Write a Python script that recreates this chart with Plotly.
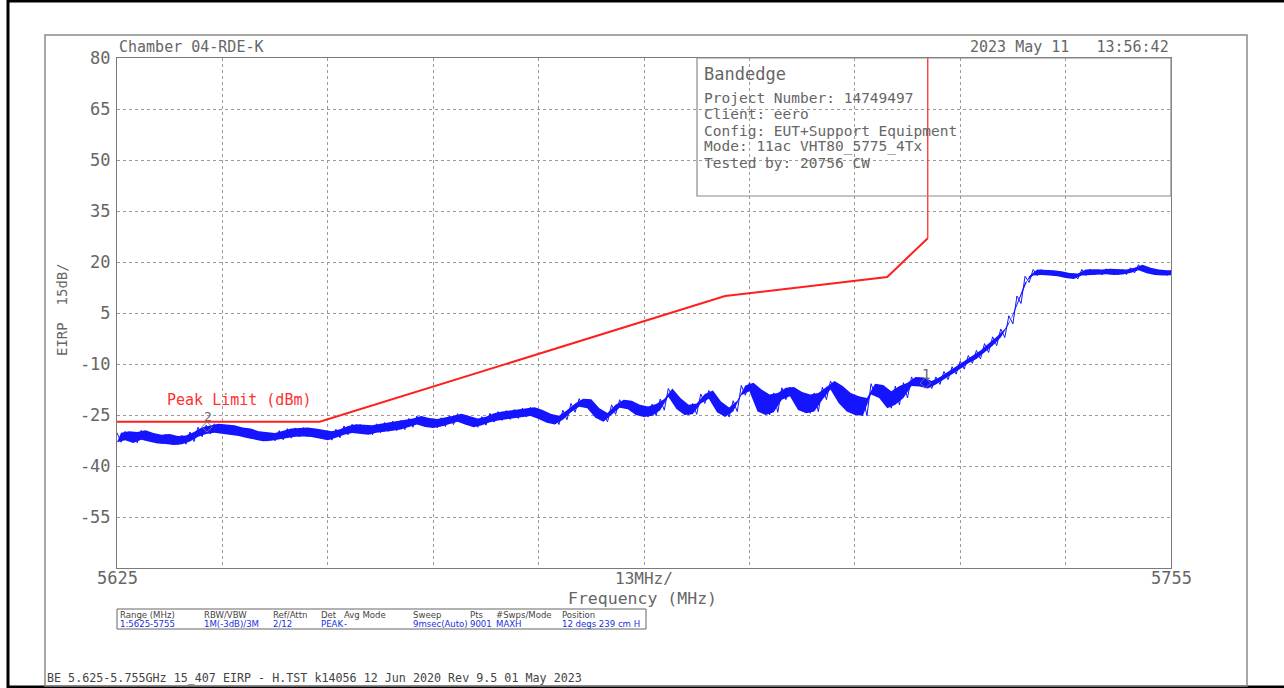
import plotly.graph_objects as go

# ---------------- data ----------------
freq_mhz = list(range(5625, 5756))  # 1 MHz steps
trace_hi = [
    -30.2, -29.8, -30.0, -29.5, -30.3, -30.8, -30.6, -31.2, -31.0, -30.0,
    -28.6, -28.0, -27.6, -27.8, -28.0, -28.7, -29.0, -29.8, -30.0, -30.3,
    -29.6, -29.0, -28.8, -28.7, -29.0, -29.4, -29.8, -29.2, -28.2, -27.7,
    -27.8, -28.0, -27.6, -27.2, -26.8, -26.6, -26.0, -25.3, -25.9, -26.2,
    -25.8, -25.2, -24.6, -25.2, -26.0, -25.5, -24.5, -24.0, -23.7, -23.4,
    -23.0, -22.7, -23.5, -24.6, -25.2, -23.6, -21.6, -20.2, -20.4, -23.0,
    -24.4, -22.0, -20.5, -20.8, -22.0, -22.5, -21.8, -20.3, -17.2, -20.0,
    -22.0, -21.6, -18.8, -17.8, -21.0, -22.8, -20.8, -16.3, -15.5, -17.5,
    -19.0, -18.5, -17.0, -16.8, -18.2, -19.0, -18.5, -16.8, -15.0, -16.5,
    -18.5, -19.5, -20.0, -15.8, -16.2, -18.0, -16.5, -15.5, -13.8, -14.0,
    -15.0, -13.8, -12.2, -10.8, -9.2, -7.5, -6.0, -4.0, -2.0, 0.3,
    4.2, 10.0, 15.8, 17.8, 17.8, 17.6, 17.3, 16.8, 16.6, 17.8,
    17.9, 17.8, 18.0, 17.8, 17.8, 18.3, 19.2, 18.3, 17.8, 17.6,
    17.5,
]
trace_lo = [
    -33.0, -32.4, -33.2, -32.3, -32.9, -33.4, -33.5, -33.8, -33.6, -32.8,
    -31.4, -30.6, -30.2, -30.5, -30.7, -31.2, -31.8, -32.2, -32.7, -32.6,
    -32.3, -31.8, -31.4, -31.3, -31.5, -32.0, -32.4, -31.7, -30.8, -30.3,
    -30.5, -30.8, -30.2, -29.8, -29.6, -29.3, -28.6, -27.8, -28.5, -28.8,
    -28.4, -27.8, -27.0, -27.9, -28.6, -28.0, -27.1, -26.6, -26.3, -26.0,
    -25.6, -25.3, -26.2, -27.3, -27.8, -26.4, -24.2, -22.6, -23.0, -25.8,
    -27.0, -24.8, -22.9, -23.3, -25.0, -25.6, -25.2, -23.6, -19.6, -23.2,
    -25.0, -24.8, -21.6, -20.2, -24.2, -25.6, -24.0, -19.2, -18.0, -24.0,
    -25.0, -24.2, -20.5, -19.5, -23.5, -24.5, -24.0, -20.5, -17.5, -21.5,
    -24.0, -25.0, -25.2, -19.0, -20.0, -23.0, -22.0, -20.0, -16.5, -16.6,
    -17.2, -16.0, -14.6, -13.0, -11.5, -9.8, -8.5, -6.6, -4.6, -2.2,
    1.8, 7.8, 14.0, 16.0, 16.2, 16.0, 15.8, 15.3, 15.0, 16.0,
    16.2, 16.2, 16.4, 16.2, 16.3, 16.8, 17.6, 16.7, 16.2, 16.0,
    16.1,
]

limit_freq = [5625, 5650, 5700, 5720, 5725, 5725]
limit_dbm = [-27, -27, 10, 15.6, 27, 90]

marker_ids = ["1", "2"]
marker_freq = [5724.7, 5636.1]
marker_dbm = [-15.6, -28.5]

y_ticks = [80, 65, 50, 35, 20, 5, -10, -25, -40, -55]
x_grid = [5625 + 13 * k for k in range(11)]

info_title = "Bandedge"
info_lines = [
    "Project Number: 14749497",
    "Client: eero",
    "Config: EUT+Support Equipment",
    "Mode: 11ac VHT80_5775_4Tx",
    "Tested by: 20756 CW",
]
table_headers = ["Range (MHz)", "RBW/VBW", "Ref/Attn", "Det", "Avg Mode",
                 "Sweep", "Pts", "#Swps/Mode", "Position"]
table_values = ["1:5625-5755", "1M(-3dB)/3M", "2/12", "PEAK", "-",
                "9msec(Auto)", "9001", "MAXH", "12 degs 239 cm H"]
table_col_px = [118, 202, 271, 319, 342, 411, 468, 494, 560]

# ---------------- layout helpers ----------------
W, H = 1284, 688
L, R, T, B = 117, 1171, 58, 568


def px(x):
    return (x - L) / (R - L)


def py(y):
    return (B - y) / (B - T)


MONO = "DejaVu Sans Mono, Liberation Mono, monospace"
GRAY = "#666666"
BLUE = "#1414ff"

# zig-zag the envelope into a dense noisy trace
tx, ty = [], []
for f, h, l in zip(freq_mhz, trace_hi, trace_lo):
    tx += [f, f + 0.5]
    ty += [h, l]

fig = go.Figure()
# solid band between envelopes
fig.add_trace(go.Scatter(x=freq_mhz, y=trace_lo, mode="lines",
                         line=dict(color="rgba(0,0,255,0)", width=0),
                         hoverinfo="skip", showlegend=False))
fig.add_trace(go.Scatter(x=[f + 0.5 for f in freq_mhz], y=trace_hi,
                         mode="lines", fill="tonexty", fillcolor=BLUE,
                         line=dict(color="rgba(0,0,255,0)", width=0),
                         hoverinfo="skip", showlegend=False))
fig.add_trace(go.Scatter(x=tx, y=ty, mode="lines",
                         line=dict(color=BLUE, width=1),
                         hoverinfo="skip", showlegend=False))
fig.add_trace(go.Scatter(x=limit_freq[:5], y=limit_dbm[:5], mode="lines",
                         line=dict(color="#ff1f1f", width=2),
                         showlegend=False))
fig.add_trace(go.Scatter(x=limit_freq[4:], y=limit_dbm[4:], mode="lines",
                         line=dict(color="#ff1f1f", width=1.2),
                         showlegend=False))
fig.add_trace(go.Scatter(x=marker_freq, y=marker_dbm, mode="markers",
                         marker=dict(symbol="diamond-open", size=8,
                                     color="#777", line=dict(width=1)),
                         showlegend=False))

shapes = []
# outer black frame
shapes.append(dict(type="line", xref="paper", yref="paper",
                   x0=px(8), x1=px(8), y0=py(0), y1=py(H),
                   line=dict(color="black", width=3)))
shapes.append(dict(type="line", xref="paper", yref="paper",
                   x0=px(8), x1=px(W), y0=py(1), y1=py(1),
                   line=dict(color="black", width=3)))
shapes.append(dict(type="line", xref="paper", yref="paper",
                   x0=px(8), x1=px(W), y0=py(687), y1=py(687),
                   line=dict(color="black", width=3)))
# inner gray frame
shapes.append(dict(type="rect", xref="paper", yref="paper",
                   x0=px(45), x1=px(1247), y0=py(35), y1=py(686),
                   line=dict(color="#8a8a8a", width=1.5)))
# info box
shapes.append(dict(type="rect", xref="paper", yref="paper",
                   x0=px(697), x1=px(1171), y0=py(58), y1=py(196),
                   line=dict(color="#8a8a8a", width=1.2)))
# table box
shapes.append(dict(type="rect", xref="paper", yref="paper",
                   x0=px(117), x1=px(646), y0=py(609), y1=py(629),
                   line=dict(color="#666", width=1)))

ann = []


def text(x, y, s, size, color=GRAY, xanchor="left", family=MONO, angle=0):
    ann.append(dict(xref="paper", yref="paper", x=px(x), y=py(y), text=s,
                    showarrow=False, xanchor=xanchor, yanchor="middle",
                    textangle=angle,
                    font=dict(family=family, size=size, color=color)))


text(117, 47, "Chamber 04-RDE-K", 15)
text(1171, 47, "2023 May 11   13:56:42", 15, xanchor="right")
text(702, 74, info_title, 17)
for i, s in enumerate(info_lines):
    text(702, 98 + i * 16.3, s, 14.5)
text(62, 310, "EIRP  15dB/", 14, angle=-90, xanchor="center")
text(117, 578, "5625", 17, xanchor="center")
text(1171, 578, "5755", 17, xanchor="center")
text(644, 578, "13MHz/", 16, xanchor="center")
text(642, 598, "Frequency (MHz)", 16.5, xanchor="center")
text(165, 400, "Peak Limit (dBm)", 15, color="#ff3030")
# marker numbers
text(208, 417, marker_ids[1], 13, xanchor="center")
text(926, 374, marker_ids[0], 14, xanchor="center")
NARROW = "Liberation Sans Narrow, DejaVu Sans Condensed, Arial Narrow, sans-serif"
for cx, hd, vl in zip(table_col_px, table_headers, table_values):
    text(cx, 614, hd, 9.5, color="#444", family=NARROW)
    text(cx, 623.5, vl, 9.5, color="#2030e0", family=NARROW)
text(45, 678, "BE 5.625-5.755GHz 15_407 EIRP - H.TST k14056 12 Jun 2020 Rev 9.5 01 May 2023",
     11.7, color="#444")

fig.update_layout(
    width=W, height=H,
    margin=dict(l=L, r=W - R, t=T, b=H - B, pad=0),
    paper_bgcolor="white", plot_bgcolor="white",
    shapes=shapes, annotations=ann, showlegend=False,
    xaxis=dict(range=[5625, 5755], tickvals=x_grid, showticklabels=False,
               ticks="", showgrid=True, gridcolor="#9a9a9a", griddash="dot",
               gridwidth=1, zeroline=False, showline=True, mirror=True,
               linecolor="#7a7a7a", linewidth=1, fixedrange=True),
    yaxis=dict(range=[-70, 80], tickvals=y_ticks,
               ticktext=[str(v) for v in y_ticks], ticks="",
               tickfont=dict(family=MONO, size=17, color=GRAY),
               showgrid=True, gridcolor="#9a9a9a", griddash="dot",
               gridwidth=1, zeroline=False, showline=True, mirror=True,
               linecolor="#7a7a7a", linewidth=1, fixedrange=True,
               ticklabelstandoff=2),
)

fig.write_html(
    "out.html",
    config={"displayModeBar": False},
    post_script="document.body.style.margin='0';document.body.style.overflow='hidden';",
)
